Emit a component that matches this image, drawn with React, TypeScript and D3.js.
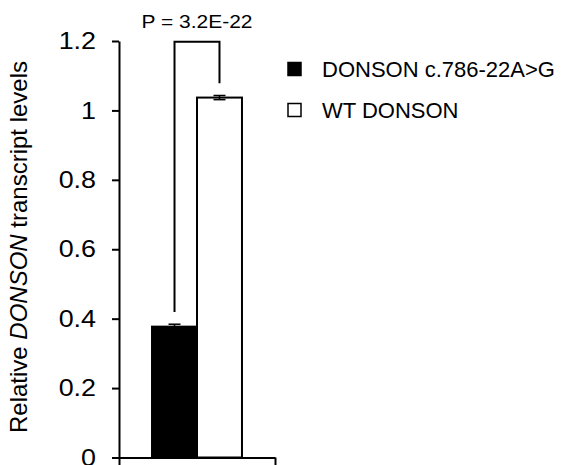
import React, { useEffect, useRef } from "react";
import * as d3 from "d3";

const categories = [""];
const seriesNames = ["DONSON c.786-22A>G", "WT DONSON"];
const seriesMeans = [0.377, 1.037];
const seriesErrors = [0.007, 0.006];
const seriesFills = ["#000000", "#ffffff"];
const yTicks = [0, 0.2, 0.4, 0.6, 0.8, 1.0, 1.2];
const yTickLabels = ["0", "0.2", "0.4", "0.6", "0.8", "1", "1.2"];
const pLabel = "P = 3.2E-22";

const W = 579;
const H = 465;
const FONT = "'Liberation Sans', Arial, sans-serif";

export default function App() {
  const ref = useRef<SVGSVGElement>(null);

  useEffect(() => {
    const svg = d3.select(ref.current);
    svg.selectAll("*").remove();

    const y = d3.scaleLinear().domain([0, 1.2]).range([457.5, 41]);
    const x0 = d3.scaleBand().domain(categories).range([119, 275]).paddingInner(0).paddingOuter(0.367);
    const x1 = d3.scaleBand().domain(seriesNames).range([0, x0.bandwidth()]).padding(0);

    // bars
    const g = svg.append("g");
    categories.forEach((c) => {
      seriesNames.forEach((s, i) => {
        const bx = (x0(c) as number) + (x1(s) as number);
        g.append("rect")
          .attr("x", bx)
          .attr("y", y(seriesMeans[i]))
          .attr("width", x1.bandwidth())
          .attr("height", y(0) - y(seriesMeans[i]))
          .attr("fill", seriesFills[i])
          .attr("stroke", "#000")
          .attr("stroke-width", 2);
        const cx = bx + x1.bandwidth() / 2;
        const top = y(seriesMeans[i] + seriesErrors[i]);
        const bot = y(seriesMeans[i] - seriesErrors[i]);
        g.append("line").attr("x1", cx).attr("x2", cx).attr("y1", top).attr("y2", bot).attr("stroke", "#000").attr("stroke-width", 1.5);
        [top, bot].forEach((yy) =>
          g.append("line").attr("x1", cx - 6).attr("x2", cx + 6).attr("y1", yy).attr("y2", yy).attr("stroke", "#000").attr("stroke-width", 1.5)
        );
      });
    });

    // significance bracket
    const c = categories[0];
    const xa = (x0(c) as number) + (x1(seriesNames[0]) as number) + x1.bandwidth() / 2;
    const xb = (x0(c) as number) + (x1(seriesNames[1]) as number) + x1.bandwidth() / 2;
    const ya = y(seriesMeans[0] + seriesErrors[0] + 0.035);
    const yb = y(seriesMeans[1] + seriesErrors[1] + 0.035);
    const yt = y(1.198);
    svg.append("path")
      .attr("d", `M${xa},${ya}V${yt}H${xb}V${yb}`)
      .attr("fill", "none")
      .attr("stroke", "#000")
      .attr("stroke-width", 2);
    svg.append("text")
      .attr("x", (xa + xb) / 2)
      .attr("y", 28)
      .attr("text-anchor", "middle")
      .attr("font-family", FONT)
      .attr("font-size", 18)
      .attr("textLength", 111)
      .attr("lengthAdjust", "spacingAndGlyphs")
      .text(pLabel);

    // y axis
    const ya1 = svg.append("g").attr("transform", "translate(119,0)")
      .call(d3.axisLeft(y).tickValues(yTicks).tickSize(7).tickSizeOuter(0).tickPadding(16)
        .tickFormat((d, i) => yTickLabels[i]));
    ya1.selectAll("path,line").attr("stroke", "#000").attr("stroke-width", 2);
    ya1.selectAll("text").attr("font-family", FONT).attr("font-size", 24).attr("fill", "#000")
      .each(function () {
        const t = this as SVGTextElement;
        const w = t.getComputedTextLength();
        t.setAttribute("textLength", String(w * 1.12));
        t.setAttribute("lengthAdjust", "spacingAndGlyphs");
      });

    // x axis
    const xl = d3.scaleLinear().domain([0, 1]).range([119, 275]);
    const xa1 = svg.append("g").attr("transform", `translate(0,${y(0)})`)
      .call(d3.axisBottom(xl).tickValues([0, 1]).tickSize(8).tickSizeOuter(0).tickFormat(() => ""));
    xa1.selectAll("path,line").attr("stroke", "#000").attr("stroke-width", 2);

    // y label
    const lab = svg.append("text")
      .attr("transform", `translate(27,247) rotate(-90)`)
      .attr("text-anchor", "middle")
      .attr("font-family", FONT)
      .attr("font-size", 24)
      .attr("fill", "#000");
    lab.append("tspan").text("Relative ");
    lab.append("tspan").attr("font-style", "italic").text("DONSON");
    lab.append("tspan").text(" transcript levels");

    // legend
    seriesNames.forEach((s, i) => {
      const ly = 69 + i * 41;
      svg.append("rect")
        .attr("x", 288).attr("y", ly - 6.5).attr("width", 13).attr("height", 13)
        .attr("fill", seriesFills[i]).attr("stroke", "#000").attr("stroke-width", 1.5);
      svg.append("text")
        .attr("x", 322).attr("y", ly + 8)
        .attr("font-family", FONT).attr("font-size", 22).attr("fill", "#000")
        .text(s);
    });
  }, []);

  return (
    <div style={{ position: "absolute", left: 0, top: 0 }}>
      <svg ref={ref} width={W} height={H} style={{ display: "block", background: "#fff" }} />
    </div>
  );
}
